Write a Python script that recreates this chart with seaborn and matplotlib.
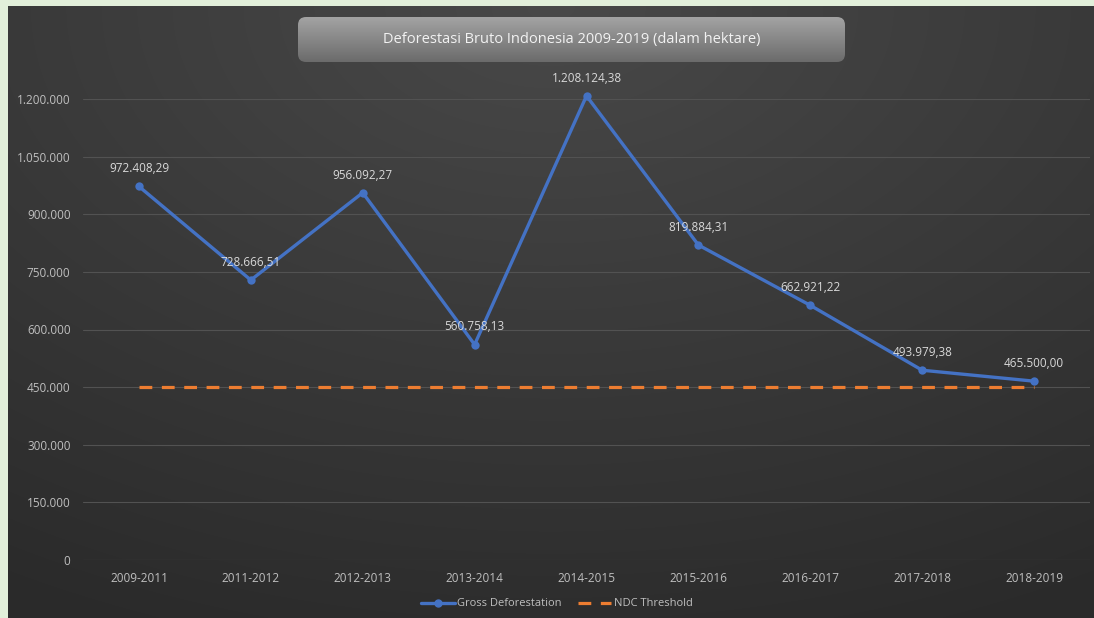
import numpy as np
import pandas as pd
import matplotlib
matplotlib.use("Agg")
import matplotlib.pyplot as plt
import seaborn as sns
from matplotlib.patches import FancyBboxPatch
from matplotlib.lines import Line2D

# data
periods = ["2009-2011", "2011-2012", "2012-2013", "2013-2014", "2014-2015",
           "2015-2016", "2016-2017", "2017-2018", "2018-2019"]
gross = [972408.29, 728666.51, 956092.27, 560758.13, 1208124.38,
         819884.31, 662921.22, 493979.38, 465500.00]
ndc = [450000] * len(periods)
y_ticks = [0, 150000, 300000, 450000, 600000, 750000, 900000, 1050000, 1200000]

def id_fmt(v, dec=2):
    s = f"{v:,.{dec}f}"
    return s.replace(",", "#").replace(".", ",").replace("#", ".")

df = pd.DataFrame({"pos": np.arange(len(periods)), "period": periods,
                   "gross": gross, "ndc": ndc})

sns.set_theme(style="dark")
plt.rcParams["font.family"] = ["Open Sans", "DejaVu Sans"]

fig = plt.figure(figsize=(10.94, 6.18), dpi=100)
fig.patch.set_facecolor("#e2efda")

# dark gradient panel
bg = fig.add_axes([8 / 1094, 0, 1 - 8 / 1094, 1 - 6 / 618])
yy, xx = np.mgrid[0:1:400j, 0:1:700j]
dist = np.sqrt(((xx - 0.5) * 1.0) ** 2 + (yy * 0.9) ** 2)
grad = np.clip(1 - dist, 0, 1)
shade = 0.165 + 0.12 * grad
bg.imshow(np.dstack([shade, shade, shade]), aspect="auto", extent=[0, 1, 0, 1],
          origin="upper", interpolation="bilinear")
bg.set_axis_off()

ax = fig.add_axes([83 / 1094, 58 / 618, 1007 / 1094, 461 / 618])
ax.patch.set_alpha(0)

sns.lineplot(data=df, x="pos", y="ndc", ax=ax, color="#ed7d31", lw=2.3,
             zorder=2)
ax.lines[-1].set_dashes((4, 3))
sns.lineplot(data=df, x="pos", y="gross", ax=ax, color="#4472c4", lw=2.4,
             marker="o", markersize=6, markeredgewidth=0, zorder=3)
for l in ax.lines:
    l.set_clip_on(False)

for x, v in zip(df["pos"], df["gross"]):
    ax.annotate(id_fmt(v), (x, v), xytext=(0, 8), textcoords="offset points",
                ha="center", va="bottom", color="#d9d9d9", fontsize=8.5,
                annotation_clip=False)

ax.set_xlim(-0.5, len(periods) - 0.5)
ax.set_ylim(0, 1200000)
ax.set_yticks(y_ticks)
ax.set_yticklabels([id_fmt(t, 0) for t in y_ticks])
ax.set_xticks(df["pos"])
ax.set_xticklabels(periods)
ax.tick_params(colors="#bfbfbf", labelsize=8.5, length=0, pad=9)
ax.grid(axis="y", color="#525252", lw=0.8)
ax.set_xlabel("")
ax.set_ylabel("")
for s in ax.spines.values():
    s.set_visible(False)

# title box with vertical gradient (coords in pixels)
bw, bh = 547, 45
tax = fig.add_axes([298 / 1094, 1 - 62 / 618, bw / 1094, bh / 618])
tax.set_xlim(0, bw)
tax.set_ylim(0, bh)
tax.set_axis_off()
tg = np.linspace(0.64, 0.42, 100)[:, None] * np.ones((1, 10))
tim = tax.imshow(np.dstack([tg, tg, tg]), aspect="auto", extent=[0, bw, 0, bh],
                 origin="upper", interpolation="bilinear")
clip = FancyBboxPatch((0, 0), bw, bh, boxstyle="round,pad=0,rounding_size=8",
                      facecolor="none", edgecolor="none")
tax.add_patch(clip)
tim.set_clip_path(clip)
tax.text(bw / 2, bh / 2, "Deforestasi Bruto Indonesia 2009-2019 (dalam hektare)",
         ha="center", va="center", color="#f2f2f2", fontsize=10.5)

handles = [Line2D([], [], color="#4472c4", lw=2.4, marker="o", markersize=5),
           Line2D([], [], color="#ed7d31", lw=2.3, dashes=(4, 3))]
fig.legend(handles, ["Gross Deforestation", "NDC Threshold"],
           loc="center", bbox_to_anchor=(557 / 1094, 1 - 604 / 618), ncol=2,
           frameon=False, fontsize=8, labelcolor="#bfbfbf",
           handlelength=3, columnspacing=1.5, handletextpad=0.2)

fig.savefig("out.png", dpi=100, facecolor=fig.get_facecolor())
